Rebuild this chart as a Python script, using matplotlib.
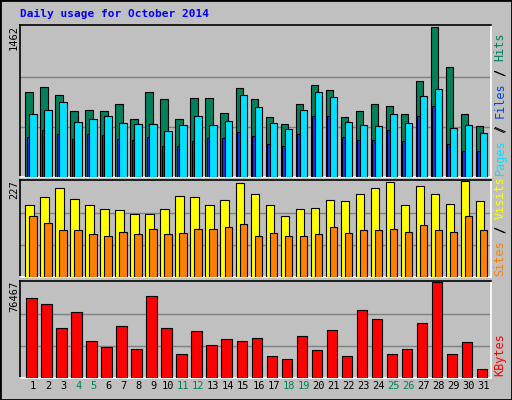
import matplotlib
matplotlib.use("Agg")
import matplotlib.pyplot as plt
import numpy as np

days = list(range(1, 32))
weekend = {4, 5, 11, 12, 18, 19, 25, 26}
hits = [824, 874, 794, 645, 655, 645, 714, 565, 824, 754, 565, 764, 764, 625, 864, 754,
        585, 515, 714, 894, 844, 585, 645, 714, 694, 615, 934, 1462, 1073, 615, 492]
files = [615, 655, 724, 535, 565, 595, 525, 515, 515, 445, 505, 595, 505, 545, 794, 684,
         525, 465, 655, 824, 774, 535, 505, 495, 615, 525, 784, 854, 475, 505, 425]
pages = [385, 455, 415, 365, 415, 405, 365, 356, 385, 306, 306, 346, 375, 375, 435, 395,
         316, 306, 415, 595, 595, 385, 356, 356, 455, 346, 595, 694, 316, 256, 256]
visits = [170, 190, 210, 185, 170, 160, 158, 148, 150, 160, 192, 190, 170, 182, 222, 195,
          170, 145, 160, 163, 182, 180, 197, 210, 225, 170, 215, 197, 173, 227, 180]
sites = [143, 128, 111, 111, 101, 96, 106, 101, 113, 101, 103, 113, 113, 118, 125, 98,
         103, 96, 96, 101, 118, 103, 111, 111, 113, 106, 123, 111, 106, 143, 111]
kbytes = [63900, 58900, 39600, 52200, 29600, 24600, 41300, 22900, 65600, 39600, 19500,
          37100, 26200, 31300, 29600, 32100, 17900, 15400, 33800, 22000, 38000, 17900,
          53900, 47200, 19500, 22900, 43800, 76467, 19500, 28700, 7000]

W, H = 512, 400
fig = plt.figure(figsize=(W / 100, H / 100), dpi=100)
fig.patch.set_facecolor("#c0c0c0")
fig.add_artist(plt.Rectangle((0, 0), 1, 1, transform=fig.transFigure, fill=False,
                             edgecolor="black", linewidth=2))

def ax_at(x0, y0, x1, y1):
    a = fig.add_axes([x0 / W, 1 - y1 / H, (x1 - x0) / W, (y1 - y0) / H])
    a.set_facecolor("#c0c0c0")
    a.set_xlim(-0.356, 31.02)
    a.set_xticks([])
    a.set_yticks([])
    for s in ("top", "left"):
        a.spines[s].set_color("black")
    for s in ("bottom", "right"):
        a.spines[s].set_color("white")
    for s in a.spines.values():
        s.set_linewidth(1.2)
    return a

x = np.arange(31)
ek = dict(edgecolor="black", linewidth=0.8, align="edge", zorder=3)

a1 = ax_at(20, 25, 491, 177)
m1 = max(hits)
a1.set_ylim(0, m1 * 1.01)
for g in (m1 / 3, 2 * m1 / 3):
    a1.axhline(g, color="#808080", linewidth=1, zorder=1)
a1.bar(x, hits, width=0.49, color="#00805c", **ek)
a1.bar(x + 0.089, pages, width=0.18, color="#0040ff", **ek)
a1.bar(x + 0.267, files, width=0.49, color="#00e0ff", **ek)

a2 = ax_at(20, 180, 491, 277)
m2 = max(visits)
a2.set_ylim(0, m2 * 1.01)
for g in (m2 / 3, 2 * m2 / 3):
    a2.axhline(g, color="#808080", linewidth=1, zorder=1)
a2.bar(x, visits, width=0.55, color="#ffff00", **ek)
a2.bar(x + 0.267, sites, width=0.49, color="#ff8000", **ek)

a3 = ax_at(20, 281, 491, 378)
m3 = max(kbytes)
a3.set_ylim(0, m3 * 1.01)
for g in (m3 / 3, 2 * m3 / 3):
    a3.axhline(g, color="#808080", linewidth=1, zorder=1)
a3.bar(x + 0.067, kbytes, width=0.69, color="#ff0000", **ek)

mono = "DejaVu Sans Mono"
for i, d in enumerate(days):
    a3.text(i + 0.53, -0.085, str(d), transform=a3.get_xaxis_transform(),
            ha="center", va="center", fontsize=7.5, family=mono,
            color="#00805c" if d in weekend else "black")

fig.text(20 / W, 1 - 14 / H, "Daily usage for October 2014", color="#0000ff",
         fontsize=8, family=mono, fontweight="bold", va="center")
for yt, txt in ((25, str(m1)), (180, str(m2)), (281, str(m3))):
    fig.text(14 / W, 1 - yt / H, txt, rotation=90, ha="center", va="top",
             fontsize=7.5, family=mono)

CH = 7.1  # px per monospace char at 8.5pt

def right_label(ybottom, parts):
    y = ybottom
    for t, c in parts:
        if t.strip():
            fig.text(500 / W, 1 - y / H, t, rotation=90, ha="center", va="bottom",
                     fontsize=8.5, family=mono, color=c)
        y -= len(t) * CH

right_label(175, [("Pages", "#00e0ff"), (" / ", "black"), ("Files", "#0040ff"),
                  (" / ", "black"), ("Hits", "#00805c")])
right_label(276, [("Sites", "#ff8000"), (" / ", "black"), ("Visits", "#ffff00")])
right_label(376, [("KBytes", "#ff0000")])
for yb, n in ((175, 5), (175, 13), (276, 5)):
    fig.text(500 / W, 1 - (yb - (n + 1) * CH) / H, "/", rotation=90, ha="center",
             va="bottom", fontsize=8.5, family=mono, color="black")

fig.savefig("out.png", dpi=100, facecolor=fig.get_facecolor())
